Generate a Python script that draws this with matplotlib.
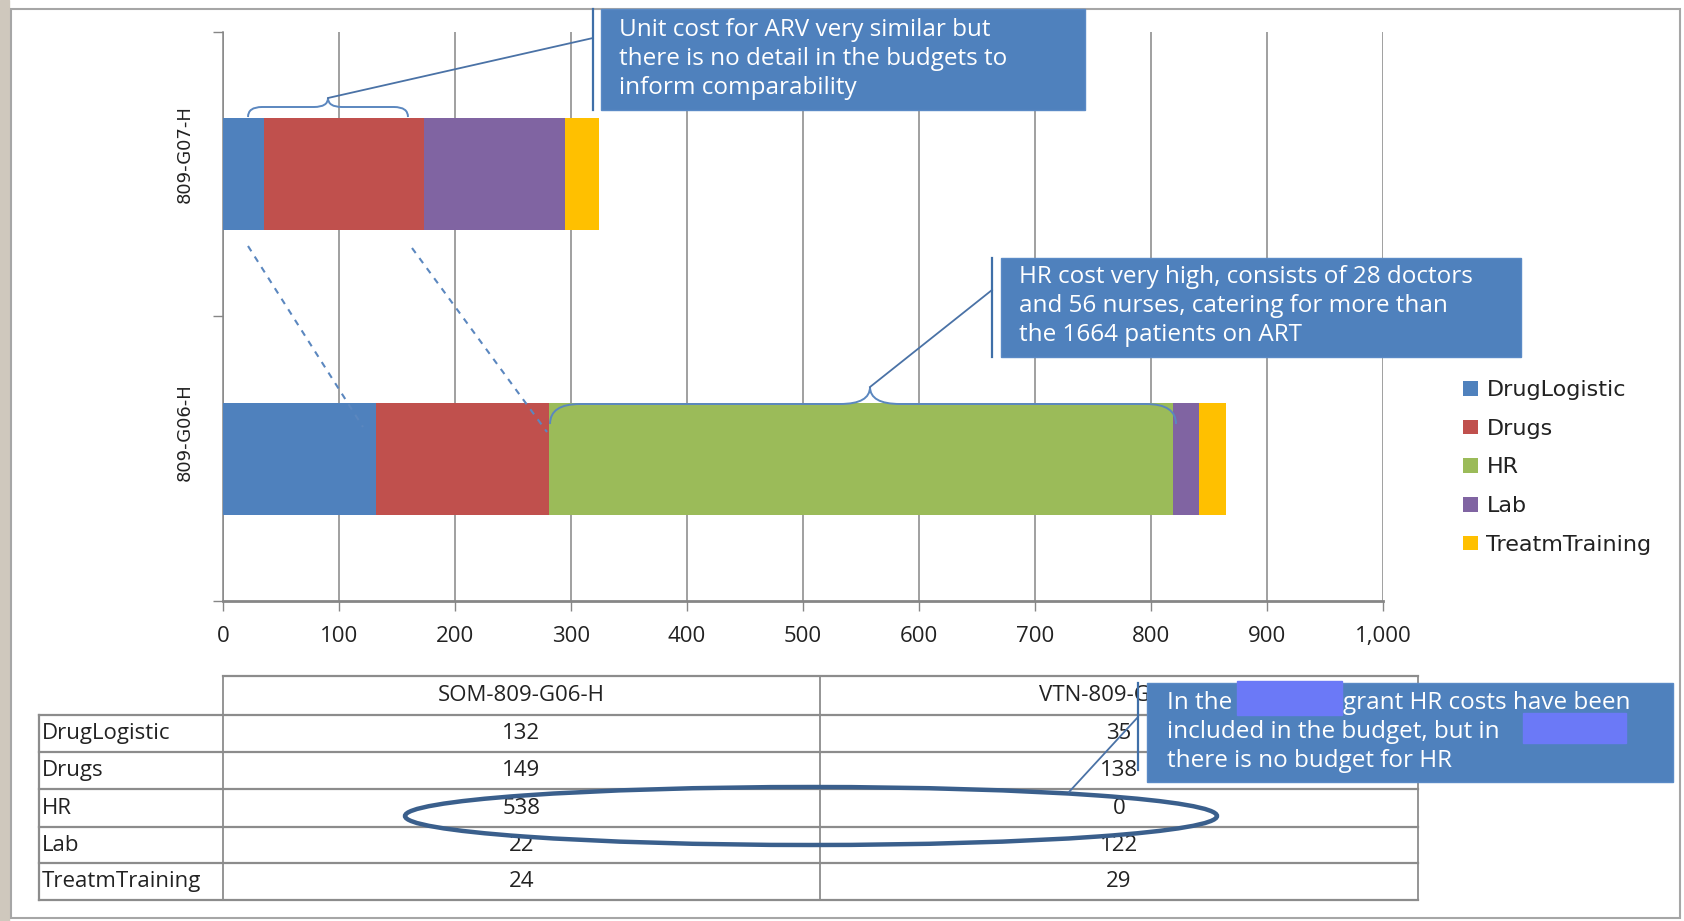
import matplotlib
matplotlib.use("Agg")
import matplotlib.pyplot as plt
from matplotlib.patches import Rectangle, Ellipse, PathPatch
from matplotlib.path import Path

# ---------------- data ----------------
series = ["DrugLogistic", "Drugs", "HR", "Lab", "TreatmTraining"]
colors = ["#4F81BD", "#C0504D", "#9BBB59", "#8064A2", "#FFC000"]
bar_labels = ["809-G07-H", "809-G06-H"]          # top, bottom
table_headers = ["SOM-809-G06-H", "VTN-809-G07-H"]
som_values = [132, 149, 538, 22, 24]   # SOM-809-G06-H
vtn_values = [35, 138, 0, 122, 29]     # VTN-809-G07-H
x_ticks = [0, 100, 200, 300, 400, 500, 600, 700, 800, 900, 1000]
x_tick_labels = ["0", "100", "200", "300", "400", "500", "600", "700", "800", "900", "1,000"]

note1 = ["Unit cost for ARV very similar but",
         "there is no detail in the budgets to",
         "inform comparability"]
note2 = ["HR cost very high, consists of 28 doctors",
         "and 56 nurses, catering for more than",
         "the 1664 patients on ART"]
note3_l1a, note3_l1b = "In the", "grant HR costs have been"
note3_l2 = "included in the budget, but in"
note3_l3 = "there is no budget for HR"

W, H = 1684, 921
BODY = "Open Sans"
WIDE = "DejaVu Sans"
fig = plt.figure(figsize=(W / 100, H / 100), dpi=100)
fig.patch.set_facecolor("white")

def fx(px):
    return px / W

def fy(py):
    return 1 - py / H

# ---------------- main bar chart ----------------
ax_l, ax_r, ax_t, ax_b = 223, 1383, 32, 601
ax = fig.add_axes([fx(ax_l), fy(ax_b), fx(ax_r - ax_l), (ax_b - ax_t) / H])
ax.set_xlim(0, 1000)
ax.set_ylim(0, 2)
ypos = [1.5, 0.5]
bar_vals = [vtn_values, som_values]
handles = []
for i, (name, col) in enumerate(zip(series, colors)):
    widths = [vals[i] for vals in bar_vals]
    lefts = [sum(vals[:i]) for vals in bar_vals]
    h = ax.barh(ypos, widths, left=lefts, height=0.395, color=col,
                edgecolor="none", label=name, zorder=3)
    handles.append(h)

ax.set_xticks(x_ticks)
ax.set_xticklabels(x_tick_labels, fontsize=16, family=BODY, color="#222222")
ax.tick_params(axis="x", length=7, color="#868686", pad=11, width=1)
ax.grid(axis="x", color="#868686", lw=1.1, zorder=0)
ax.set_yticks([0, 1, 2])
ax.set_yticklabels(["", "", ""])
ax.tick_params(axis="y", which="major", length=7, color="#868686", width=1)
for s in ["top", "right"]:
    ax.spines[s].set_visible(False)
ax.spines["left"].set_color("#868686")
ax.spines["left"].set_linewidth(1.1)
ax.spines["bottom"].set_color("#868686")
ax.spines["bottom"].set_linewidth(2)
ax.set_facecolor("none")

leg = ax.legend(handles=handles, labels=series, loc="upper left",
                bbox_to_anchor=(fx(1452), fy(369)), bbox_transform=fig.transFigure,
                frameon=False, handlelength=0.65, handleheight=0.65,
                handletextpad=0.4, labelspacing=0.84, borderpad=0,
                prop={"family": WIDE, "size": 16})
for t in leg.get_texts():
    t.set_color("#222222")

# ---------------- overlay (pixel coords) ----------------
ov = fig.add_axes([0, 0, 1, 1], zorder=10)
ov.set_xlim(0, W)
ov.set_ylim(H, 0)
ov.axis("off")
ov.patch.set_alpha(0)

# category labels (rotated, as in the reference slightly above bar centres)
ov.text(185, 154, bar_labels[0], rotation=90, ha="center", va="center",
        fontsize=13, family=WIDE, color="#222222")
ov.text(185, 432, bar_labels[1], rotation=90, ha="center", va="center",
        fontsize=13, family=WIDE, color="#222222")

# frame & left textured strip
ov.add_patch(Rectangle((0, 0), 9, H, color="#CFC8BD", zorder=1))
ov.add_patch(Rectangle((11, 9), 1669, 909, fill=False, ec="#A6A6A6", lw=1.5, zorder=1))

# table
tcol = "#8C8C8C"
x_left, x_c1, x_c2, x_right = 39, 223, 820, 1418
y_head_top = 676
row_edges = [715, 752, 789, 827, 863, 900]
ov.plot([x_c1, x_right], [y_head_top, y_head_top], color=tcol, lw=1.6, zorder=2)
for yy in row_edges:
    ov.plot([x_left, x_right], [yy, yy], color=tcol, lw=1.6, zorder=2)
ov.plot([x_left, x_left], [row_edges[0], row_edges[-1]], color=tcol, lw=1.6, zorder=2)
for xx in [x_c1, x_c2, x_right]:
    ov.plot([xx, xx], [y_head_top, row_edges[-1]], color=tcol, lw=1.3, zorder=2)
TFS = 16
for j, hdr in enumerate(table_headers):
    cx = (x_c1 + x_c2) / 2 if j == 0 else (x_c2 + x_right) / 2
    ov.text(cx, (y_head_top + row_edges[0]) / 2, hdr, ha="center", va="center",
            fontsize=TFS, family=BODY, color="#222222", zorder=3)
for i, name in enumerate(series):
    yc = (row_edges[i] + row_edges[i + 1]) / 2
    ov.text(x_left + 3, yc, name, ha="left", va="center", fontsize=TFS,
            family=BODY, color="#222222", zorder=3)
    ov.text((x_c1 + x_c2) / 2, yc, str(som_values[i]), ha="center", va="center",
            fontsize=TFS, family=BODY, color="#222222", zorder=3)
    ov.text((x_c2 + x_right) / 2, yc, str(vtn_values[i]), ha="center", va="center",
            fontsize=TFS, family=BODY, color="#222222", zorder=3)

# ellipse around HR row
ov.add_patch(Ellipse((811, 816), 812, 58, fill=False, ec="#3A5F8C", lw=3.2, zorder=4))

# braces
def brace(x0, x1, y_end, y_mid, y_tip, xm=None, r=18):
    if xm is None:
        xm = (x0 + x1) / 2
    verts = [(x0, y_end), (x0, y_mid), (x0 + r, y_mid),
             (xm - r, y_mid),
             (xm, y_mid), (xm, y_tip),
             (xm, y_mid), (xm + r, y_mid),
             (x1 - r, y_mid),
             (x1, y_mid), (x1, y_end)]
    codes = [Path.MOVETO, Path.CURVE3, Path.CURVE3, Path.LINETO,
             Path.CURVE3, Path.CURVE3, Path.CURVE3, Path.CURVE3,
             Path.LINETO, Path.CURVE3, Path.CURVE3]
    ov.add_patch(PathPatch(Path(verts, codes), fill=False, ec="#5B87BF", lw=1.4, zorder=5))

brace(248, 408, 117, 107, 98, xm=328, r=14)
brace(550, 1176, 424, 404, 387, xm=870, r=30)

# dashed comparison lines
lc = "#5B87BF"
ov.plot([248, 363], [246, 427], ls=(0, (3, 3)), color=lc, lw=1.5, zorder=5)
ov.plot([412, 547], [248, 432], ls=(0, (3, 3)), color=lc, lw=1.5, zorder=5)

# annotation boxes
box_col = "#4F81BD"
edge_col = "#3F6FA8"

def note_box(x0, y0, x1, y1, vline_x, v_y0, v_y1):
    ov.add_patch(Rectangle((x0, y0), x1 - x0, y1 - y0, fc=box_col, ec="#5A8AC6",
                           lw=1.0, zorder=6))
    ov.plot([vline_x, vline_x], [v_y0, v_y1], color=edge_col, lw=1.6, zorder=6)

note_box(601, 9, 1085, 110, 593, 9, 110)
note_box(1001, 258, 1521, 357, 992, 258, 357)
note_box(1147, 683, 1673, 782, 1138, 683, 770)

# leader lines
ov.plot([328, 593], [98, 38], color="#4A72A6", lw=1.3, zorder=5)
ov.plot([870, 992], [387, 290], color="#4A72A6", lw=1.3, zorder=5)
ov.plot([1138, 1069], [717, 792], color="#4A72A6", lw=1.3, zorder=5)

tkw = dict(color="white", fontsize=17.5, family=BODY, ha="left", va="center", zorder=7)
for k, line in enumerate(note1):
    ov.text(619, 30 + 29 * k, line, **tkw)
for k, line in enumerate(note2):
    ov.text(1019, 277 + 29 * k, line, **tkw)
ov.text(1167, 703, note3_l1a, **tkw)
ov.text(1343, 703, note3_l1b, **tkw)
ov.text(1167, 732, note3_l2, **tkw)
ov.text(1167, 761, note3_l3, **tkw)
# redaction blocks
ov.add_patch(Rectangle((1237, 681), 105, 34, color="#6B79F7", zorder=8))
ov.add_patch(Rectangle((1523, 713), 103, 30, color="#6B79F7", zorder=8))

fig.savefig("out.png", dpi=100)
